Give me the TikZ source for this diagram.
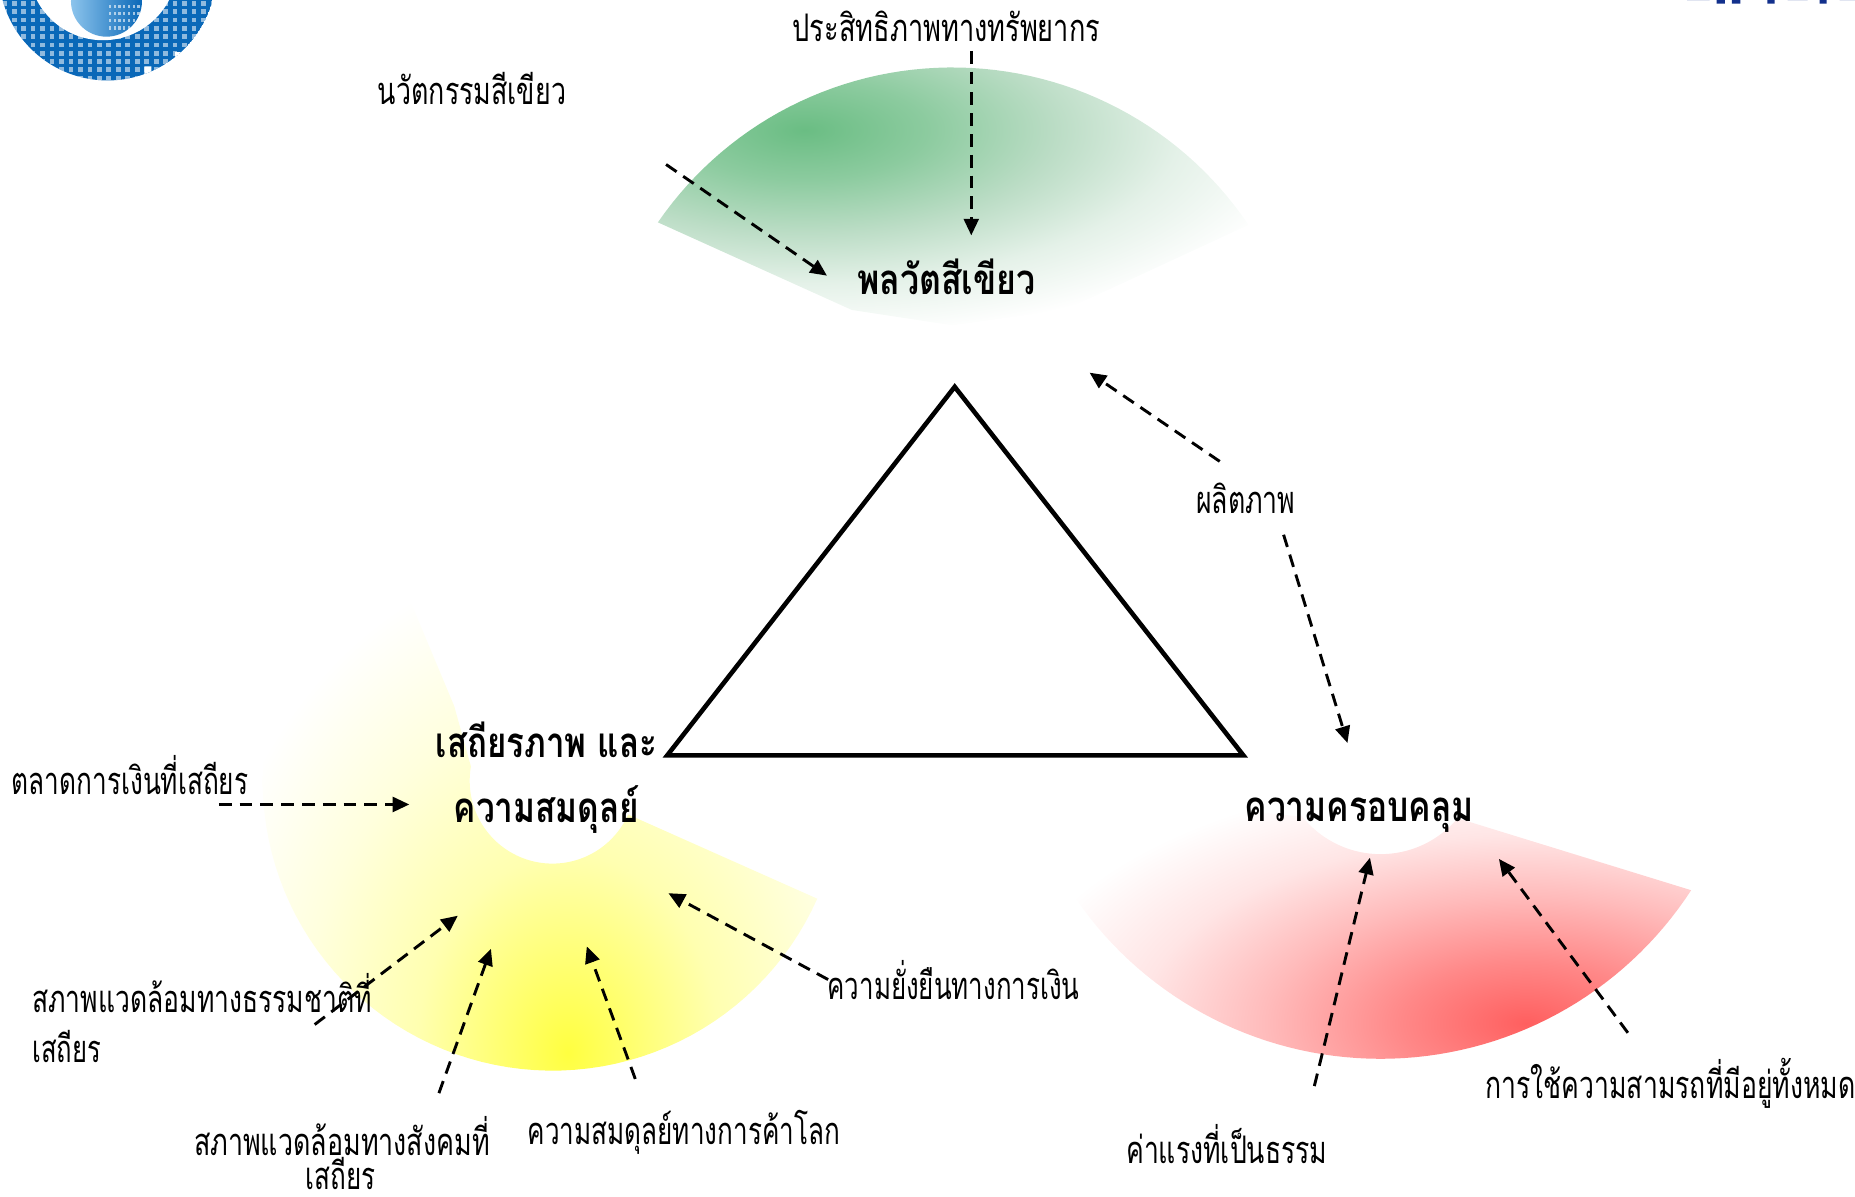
\documentclass[tikz,border=0pt]{standalone}
\usepackage{fontspec}
\usetikzlibrary{arrows.meta}
\newfontfamily\thaifont[Script=Thai]{Loma}
\newlength\pxu \setlength\pxu{0.5915pt}
\newcommand{\fitw}[2]{\resizebox{#1\pxu}{\height}{#2}}
\definecolor{gA}{HTML}{6ABD83}\definecolor{gB}{HTML}{8CCB9F}\definecolor{gC}{HTML}{BCDDC6}\definecolor{gD}{HTML}{E4F1E8}
\definecolor{yA}{HTML}{FFFF40}\definecolor{yB}{HTML}{FFFF78}\definecolor{yC}{HTML}{FFFFB0}\definecolor{yD}{HTML}{FFFFDD}
\definecolor{rA}{HTML}{FF5F5F}\definecolor{rB}{HTML}{FF8888}\definecolor{rC}{HTML}{FFBBBB}\definecolor{rD}{HTML}{FFE5E5}
\definecolor{logoD}{HTML}{0A68B8}\definecolor{logoL}{HTML}{8CC4EC}\definecolor{logoT}{HTML}{12308C}
\pgfdeclareradialshading{greenblob}{\pgfpoint{0bp}{0bp}}{color(0bp)=(gA); color(6bp)=(gB); color(12.5bp)=(gC); color(18.5bp)=(gD); color(25bp)=(white); color(50bp)=(white)}
\pgfdeclareradialshading{yellowblob}{\pgfpoint{0bp}{0bp}}{color(0bp)=(yA); color(5bp)=(yB); color(10bp)=(yC); color(17.5bp)=(yD); color(25bp)=(white); color(50bp)=(white)}
\pgfdeclareradialshading{redblob}{\pgfpoint{0bp}{0bp}}{color(0bp)=(rA); color(6bp)=(rB); color(12.5bp)=(rC); color(18.5bp)=(rD); color(25bp)=(white); color(50bp)=(white)}
\tikzset{
 lbl/.style={inner sep=0pt,font=\thaifont\fontsize{19}{23}\selectfont,text=black},
 head/.style={inner sep=0pt,font=\thaifont\bfseries\fontsize{21}{25}\selectfont,text=black},
 dasharrow/.style={line width=1.45pt,dash pattern=on 6.4pt off 4pt,-{Triangle[length=8.3pt,width=7.4pt]}},
 tri/.style={line width=2.3pt,draw=black,line join=miter}
}
\begin{document}
\begin{tikzpicture}[x=0.5915pt,y=-0.5915pt]
\useasboundingbox (0,0) rectangle (1568,1011);
\clip (0,0) rectangle (1568,1011);
% green fan
\begin{scope}
 \clip plot[domain=214.5:326,samples=60] ({805+302*cos(\x)},{359+302*sin(\x)}) -- (900,262) -- (805,275) -- (720,262) -- cycle;
 \shade[shading=greenblob] (680,110) ellipse (430 and 175);
\end{scope}
% yellow fan
\begin{scope}
 \clip plot[domain=24:235,samples=80] ({467+245*cos(\x)},{660+245*sin(\x)})
   -- (384,597) -- plot[domain=190:24,samples=50] ({467+70*cos(\x)},{660+70*sin(\x)}) -- cycle;
 \shade[shading=yellowblob] (480,890) ellipse (320 and 420);
\end{scope}
% red fan
\begin{scope}
 \clip plot[domain=33:156,samples=70] ({1167+313*cos(\x)},{582+313*sin(\x)})
   -- (1023,682) -- (1097,690) -- plot[domain=145:40,samples=40] ({1167+85*cos(\x)},{637+85*sin(\x)}) -- cycle;
 \shade[shading=redblob] (1290,865) ellipse (440 and 215);
\end{scope}
% logo top left
\begin{scope}
 \clip (91,-24) circle (92);
 \fill[logoD] (91,-24) circle (92);
 \foreach \i in {0,...,22}{\foreach \j in {0,...,9}{
   \fill[white,opacity=0.55] ({2+8*\i},{1+7*\j}) rectangle +(4,4);}}
 \fill[white] (148,44) rectangle (160,70) (122,56) rectangle (128,70);
 \fill[white] (87,-29) circle (63);
 \shade[left color=logoL,right color=logoD] (90,1) circle (30);
 \foreach \i in {0,...,6}{\foreach \j in {0,...,3}{
   \fill[white,opacity=0.6] ({92+4*\i},{4+6*\j}) rectangle +(2,3);}}
\end{scope}
% top-right logo remnants
\fill[logoT] (1426,0) arc[start angle=180,end angle=360,x radius=9.5,y radius=3.5] -- cycle;
\fill[logoT] (1451,0) rectangle (1458,3) (1464,0) rectangle (1471,3) (1494,0) rectangle (1500,3) (1538,0) rectangle (1544,3);
\fill[logoT] (1511,0) arc[start angle=180,end angle=360,x radius=8.5,y radius=3.5] -- cycle;
\fill[logoT] (1555,0) arc[start angle=180,end angle=360,x radius=7,y radius=3] -- cycle;
% triangle
\coordinate (tA) at (807,327); \coordinate (tB) at (564,638.5); \coordinate (tC) at (1051,638.5);
\draw[tri] (tA) -- (tB) -- (tC) -- cycle;
% labels
\node[lbl] (n1) at (800,22) {\fitw{260}{ประสิทธิภาพทางทรัพยากร}};
\node[lbl] (n2) at (399,75) {\fitw{159}{นวัตกรรมสีเขียว}};
\node[head] (h1) at (800,234) {\fitw{151}{พลวัตสีเขียว}};
\node[lbl] (n3) at (1053,421) {\fitw{84}{ผลิตภาพ}};
\node[head] (h2) at (462,625) {\fitw{187}{เสถียรภาพ และ}};
\node[head] (h3) at (462,684) {\fitw{157}{ความสมดุลย์}};
\node[head] (h4) at (1149,689) {\fitw{194}{ความครอบคลุม}};
\node[lbl] (n4) at (110,655) {\fitw{200}{ตลาดการเงินที่เสถียร}};
\node[lbl] (n5) at (806,828) {\fitw{213}{ความยั่งยืนทางการเงิน}};
\node[lbl,anchor=west] (n6) at (27,839) {\fitw{287}{สภาพแวดล้อมทางธรรมชาติที่}};
\node[lbl,anchor=west] (n7) at (27,885) {\fitw{58}{เสถียร}};
\node[lbl] (n8) at (289,960) {\fitw{250}{สภาพแวดล้อมทางสังคมที่}};
\node[lbl] (n9) at (288,992) {\fitw{59}{เสถียร}};
\node[lbl] (n10) at (578,957) {\fitw{264}{ความสมดุลย์ทางการค้าโลก}};
\node[lbl] (n11) at (1412,916) {\fitw{313}{การใช้ความสามรถที่มีอยู่ทั้งหมด}};
\node[lbl] (n12) at (1037,967) {\fitw{170}{ค่าแรงที่เป็นธรรม}};
% arrows
\coordinate (a1s) at (821,43); \coordinate (a1e) at (821,199);
\coordinate (a2s) at (563,139); \coordinate (a2e) at (699,233);
\coordinate (a3s) at (1031,390); \coordinate (a3e) at (921,315);
\coordinate (a4s) at (1085,452); \coordinate (a4e) at (1139,628);
\coordinate (a5s) at (185,680); \coordinate (a5e) at (346,680);
\coordinate (a6s) at (266,866); \coordinate (a6e) at (387,774);
\coordinate (a7s) at (371,924); \coordinate (a7e) at (415,802);
\coordinate (a8s) at (537,912); \coordinate (a8e) at (496,800);
\coordinate (a9s) at (700,828); \coordinate (a9e) at (565,755);
\coordinate (a10s) at (1111,918); \coordinate (a10e) at (1158,725);
\coordinate (a11s) at (1376,873); \coordinate (a11e) at (1267,726);
\foreach \k in {1,...,11}{\draw[dasharrow] (a\k s) -- (a\k e);}
\end{tikzpicture}
\end{document}
